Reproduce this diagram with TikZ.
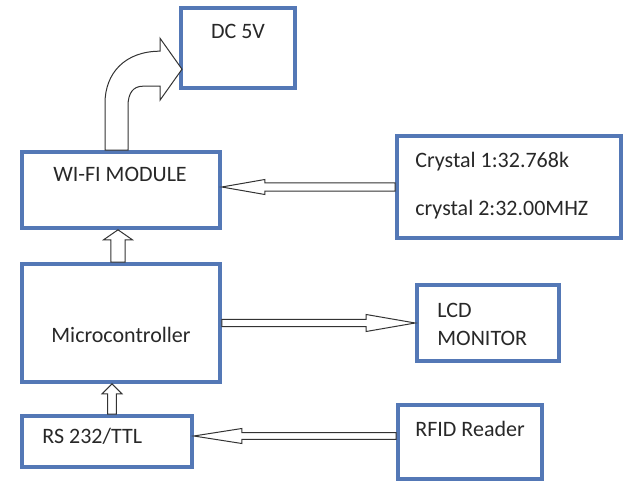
\documentclass[tikz,border=0pt]{standalone}
\usepackage{fontspec}
\setmainfont{Carlito}
\usetikzlibrary{calc}
\definecolor{boxblue}{RGB}{84,120,182}
\definecolor{txtgray}{RGB}{40,40,40}
% hollow block arrows: from, to, shaft half, head half, head length
\newcommand{\hblock}[5]{\draw[block] let \p1=(#1), \p2=(#2), \p3=($(#2)!#5!(#1)$) in
  (\x1,\y1+#3) -- (\x3,\y1+#3) -- (\x3,\y1+#4) -- (\x2,\y1) -- (\x3,\y1-#4) -- (\x3,\y1-#3) -- (\x1,\y1-#3) -- cycle;}
\newcommand{\vblock}[5]{\draw[block] let \p1=(#1), \p2=(#2), \p3=($(#2)!#5!(#1)$) in
  (\x1+#3,\y1) -- (\x1+#3,\y3) -- (\x1+#4,\y3) -- (\x1,\y2) -- (\x1-#4,\y3) -- (\x1-#3,\y3) -- (\x1-#3,\y1) -- cycle;}
\begin{document}
\begin{tikzpicture}[x=0.5pt,y=-0.5pt,font=\fontsize{11}{13}\selectfont,
  box/.style={draw=boxblue,line width=1.8pt,fill=white,inner sep=0pt},
  lbl/.style={text=txtgray,inner sep=0pt},
  block/.style={draw=black!80,line width=0.5pt,fill=white,line join=miter}]
\useasboundingbox (0,0) rectangle (623,482);
% boxes
\node[box,minimum width=57pt,minimum height=40pt] (dc) at (238,48) {};
\node[box,minimum width=99pt,minimum height=38pt] (wifi) at (121,190) {};
\node[box,minimum width=99pt,minimum height=59pt] (micro) at (121,323) {};
\node[box,minimum width=85pt,minimum height=25.5pt] (rs) at (107,441.5) {};
\node[box,minimum width=112pt,minimum height=51pt] (cry) at (509,187) {};
\node[box,minimum width=71pt,minimum height=38pt] (lcd) at (488,323) {};
\node[box,minimum width=72pt,minimum height=37pt] (rfid) at (470,442) {};
% texts
\node[lbl,anchor=base] (dctext) at (238,39) {DC 5V};
\node[lbl,anchor=base] (wifitext) at (120,182) {WI-FI MODULE};
\node[lbl,anchor=base] (microtext) at (121,343) {Microcontroller};
\node[lbl,anchor=base west] (rstext) at (42,444) {RS 232/TTL};
\node[lbl,anchor=base west] (crytexta) at (415,168) {Crystal 1:32.768k};
\node[lbl,anchor=base west] (crytextb) at (415,215) {crystal 2:32.00MHZ};
\node[lbl,anchor=base west] (lcdtexta) at (437,317) {LCD};
\node[lbl,anchor=base west] (lcdtextb) at (437,345) {MONITOR};
\node[lbl,anchor=base west] (rfidtext) at (415,437) {RFID Reader};
% arrow ends
\coordinate (cryport) at (cry.west);
\coordinate (wifiport) at (cryport -| wifi.east);
\coordinate (rfidport) at ($(rfid.west)+(0,-6)$);
\coordinate (rsport) at (rfidport -| rs.east);
\coordinate (microtop) at ($(micro.north)+(-3,0)$);
\coordinate (wifibottom) at (microtop |- wifi.south);
\coordinate (rstop) at ($(rs.north)+(5,0)$);
\coordinate (microbottom) at (rstop |- micro.south);
% block arrows
\hblock{cryport}{wifiport}{2.1pt}{3.75pt}{21.5pt}
\hblock{micro.east}{lcd.west}{1.8pt}{4.25pt}{24.5pt}
\hblock{rfidport}{rsport}{1.7pt}{3.75pt}{24pt}
\vblock{microtop}{wifibottom}{3.6pt}{7.2pt}{5pt}
\vblock{rstop}{microbottom}{2.2pt}{5pt}{5pt}
% curved arrow up to the supply
\coordinate (curvefoot) at ($(wifi.north)+(-16,0)$);
\draw[block] (curvefoot) -- ++(0,-47) .. controls +(0,-30) and +(-35,0) .. ++(55,-52)
  -- ++(0,-13) -- ++(22,31) -- ++(-22,31) -- ++(0,-14) -- ++(-17,0)
  .. controls +(-10,0) and +(0,-13) .. ++(-15,20) -- ++(0,44) -- cycle;
\end{tikzpicture}
\end{document}
